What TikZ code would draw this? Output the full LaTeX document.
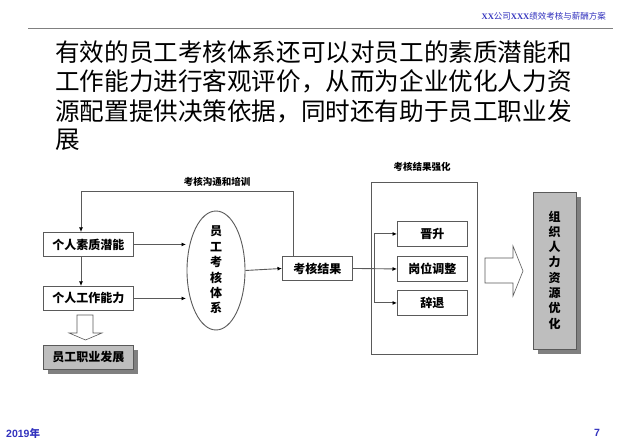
\documentclass[tikz,border=0pt]{standalone}
\usepackage{fontspec}
\setmainfont{Liberation Sans}
\newfontfamily\cjk{Noto Sans CJK SC}
\usetikzlibrary{arrows.meta,shapes.geometric}
\definecolor{hdr}{RGB}{50,50,190}
\definecolor{boxline}{RGB}{90,90,90}
\definecolor{fillgray}{RGB}{190,190,190}
\definecolor{shadowgray}{RGB}{128,128,128}
\tikzset{
  x=1pt,y=-1pt,
  lab/.style={font=\cjk\bfseries\fontsize{12}{12}\selectfont,text=black},
  plain/.style={draw=boxline,line width=0.9pt,fill=white,inner sep=0pt,anchor=north west,lab},
  grayb/.style={draw=boxline,line width=0.9pt,fill=fillgray,inner sep=0pt,anchor=north west,lab},
  shad/.style={fill=shadowgray,draw=none},
  conn/.style={draw=boxline,line width=0.9pt},
  arr/.style={conn,-{Latex[length=4.5pt,width=4pt,black]}},
  small/.style={font=\cjk\bfseries\fontsize{9.5}{10}\selectfont,text=black,inner sep=0pt},
  block/.style={draw=boxline,line width=0.6pt,fill=white},
  titleline/.style={anchor=west,inner sep=0pt,font=\cjk\fontsize{24.6}{24.6}\selectfont},
}
\begin{document}
\begin{tikzpicture}
\useasboundingbox (0,0) rectangle (640,443);
\fill[white] (0,0) rectangle (640,443);
% header
\node[anchor=east,inner sep=0pt,text=hdr,font=\fontsize{8.5}{10}\selectfont] (hd) at (606,16)
  {\textbf{\fontspec{Liberation Serif}XX}{\cjk 公司}\textbf{\fontspec{Liberation Serif}XXX}{\cjk 绩效考核与薪酬方案}};
\coordinate (ruleL) at (28,29);
\coordinate (ruleR) at (613,29);
\draw[draw=gray,line width=1pt] (ruleL) -- (ruleR);
% title
\node[titleline] (t1) at (55,52) {有效的员工考核体系还可以对员工的素质潜能和};
\node[titleline] (t2) at (55,81) {工作能力进行客观评价，从而为企业优化人力资};
\node[titleline] (t3) at (55,111) {源配置提供决策依据，同时还有助于员工职业发};
\node[titleline] (t4) at (55,140) {展};
% footer
\node[anchor=west,inner sep=0pt,text=hdr,font=\bfseries\fontsize{10.5}{12}\selectfont] (yr) at (6,433) {2019{\cjk 年}};
\node[anchor=center,inner sep=0pt,text=hdr,font=\bfseries\fontsize{10.5}{12}\selectfont] (pg) at (597,433) {7};
% shadows
\fill[shad] (48,350) rectangle (138,374);
\fill[shad] (538,197) rectangle (581,354);
% boxes
\node[plain,minimum width=90pt,minimum height=24pt] (a) at (43,232) {个人素质潜能};
\node[plain,minimum width=90pt,minimum height=24pt] (b) at (43,286) {个人工作能力};
\node[grayb,minimum width=90pt,minimum height=24pt] (c) at (43,345) {员工职业发展};
\node[draw=boxline,line width=0.9pt,fill=white,ellipse,minimum width=58pt,minimum height=119pt,inner sep=0pt] (e) at (216,270.5) {};
\node[lab,align=center,inner sep=0pt,font=\cjk\bfseries\fontsize{12}{15.4}\selectfont] (et) at (216,270) {员\\工\\考\\核\\体\\系};
\node[plain,minimum width=70pt,minimum height=24pt] (r) at (282,256) {考核结果};
\node[draw=boxline,line width=0.9pt,fill=white,inner sep=0pt,anchor=north west,minimum width=106pt,minimum height=172pt] (big) at (371,182) {};
\node[plain,minimum width=70pt,minimum height=25pt] (p1) at (397,221) {晋升};
\node[plain,minimum width=70pt,minimum height=25pt] (p2) at (397,256) {岗位调整};
\node[plain,minimum width=70pt,minimum height=25pt] (p3) at (397,290) {辞退};
\node[grayb,minimum width=43pt,minimum height=157pt] (o) at (533,192) {};
\node[lab,align=center,inner sep=0pt,font=\cjk\bfseries\fontsize{12}{15.3}\selectfont] (ot) at (554.5,270) {组\\织\\人\\力\\资\\源\\优\\化};
% labels
\node[small] (l1) at (217,182) {考核沟通和培训};
\node[small] (l2) at (422,167) {考核结果强化};
% connectors
\draw[arr] (r.north -| 293,0) -- (293,191) -- (81,191) -- (a.north -| 81,0);
\draw[arr] (a.south -| 81,0) -- (b.north -| 81,0);
\draw[arr] (a.east) -- (186,246 |- a.east);
\draw[arr] (b.east) -- (186,298 |- b.east);
\draw[arr] (e.east) -- (r.west);
\coordinate (fork) at (374,268.5);
\draw[arr] (r.east) -- (p2.west);
\draw[arr] (fork) |- (p1.west);
\draw[arr] (fork) |- (p3.west);
% block arrows
\draw[block] (77,315) -- (93,315) -- (93,333) -- (102,333) -- (85.5,340) -- (69,333) -- (77,333) -- cycle;
\draw[block] (485,258) -- (513,258) -- (513,246) -- (523,271) -- (513,296) -- (513,283) -- (485,283) -- cycle;
\end{tikzpicture}
\end{document}
